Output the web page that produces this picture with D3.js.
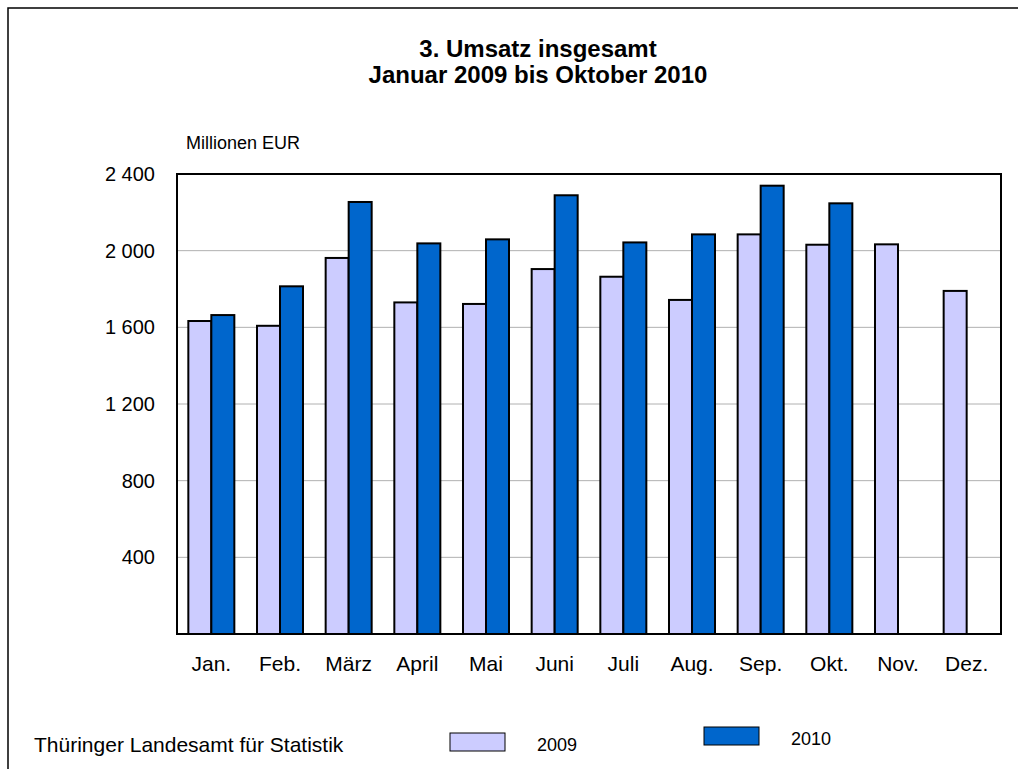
<!DOCTYPE html>
<html>
<head>
<meta charset="utf-8">
<script src="https://cdn.jsdelivr.net/npm/d3@7"></script>
<style>
  body { margin: 0; background: #fff; }
  text { font-family: "Liberation Sans", Arial, sans-serif; fill: #000; }
</style>
</head>
<body>
<svg id="chart" width="1018" height="769"></svg>
<script>
const months = ["Jan.", "Feb.", "März", "April", "Mai", "Juni", "Juli", "Aug.", "Sep.", "Okt.", "Nov.", "Dez."];
const years = ["2009", "2010"];
const values2009 = [1633, 1608, 1962, 1730, 1722, 1904, 1864, 1743, 2085, 2031, 2033, 1790];
const values2010 = [1664, 1814, 2254, 2038, 2059, 2289, 2043, 2085, 2339, 2247, null, null];
const yTicks = [400, 800, 1200, 1600, 2000, 2400];

const colors = { "2009": "#ccccff", "2010": "#0066cc" };

const margin = { top: 174, right: 17, bottom: 135, left: 177 },
  width = 1018 - margin.left - margin.right,
  height = 769 - margin.top - margin.bottom;

const svg = d3.select("svg#chart");

// outer frame
svg.append("rect")
  .attr("x", 8).attr("y", 8)
  .attr("width", 1040).attr("height", 800)
  .attr("fill", "none").attr("stroke", "#000").attr("stroke-width", 1.5);

// title
const title = svg.append("text")
  .attr("text-anchor", "middle")
  .attr("font-size", 24).attr("font-weight", "bold");
title.append("tspan").attr("x", 538).attr("y", 57).text("3. Umsatz insgesamt");
title.append("tspan").attr("x", 538).attr("y", 83).text("Januar 2009 bis Oktober 2010");

svg.append("text")
  .attr("x", 186).attr("y", 149)
  .attr("font-size", 18)
  .text("Millionen EUR");

const g = svg.append("g")
  .attr("transform", "translate(" + margin.left + "," + margin.top + ")");

const x = d3.scaleBand()
  .domain(months)
  .range([0, width])
  .paddingInner(0.33)
  .paddingOuter(0.165);

const xInner = d3.scaleBand()
  .domain(years)
  .range([0, x.bandwidth()]);

const y = d3.scaleLinear()
  .domain([0, 2400])
  .range([height, 0]);

const fmt = d3.formatLocale({ decimal: ",", thousands: " ", grouping: [3], currency: ["", " €"] }).format(",d");

// grid lines
g.append("g")
  .selectAll("line")
  .data(yTicks.filter(t => t < 2400))
  .enter().append("line")
  .attr("x1", 0).attr("x2", width)
  .attr("y1", d => y(d)).attr("y2", d => y(d))
  .attr("stroke", "#b0b0b0").attr("stroke-width", 1);

// y axis labels
const yAxis = d3.axisLeft(y)
  .tickValues(yTicks)
  .tickSize(0)
  .tickPadding(22)
  .tickFormat(fmt);

g.append("g")
  .call(yAxis)
  .call(ax => ax.select(".domain").remove())
  .selectAll("text")
  .attr("font-size", 20)
  .style("font-family", "Liberation Sans, Arial, sans-serif");

// bars
const rows = months.map((m, i) => ({ month: m, "2009": values2009[i], "2010": values2010[i] }));

const groups = g.selectAll(".month")
  .data(rows)
  .enter().append("g")
  .attr("class", "month")
  .attr("transform", d => "translate(" + x(d.month) + ",0)");

groups.selectAll("rect")
  .data(d => years.filter(k => d[k] != null).map(k => ({ key: k, value: d[k] })))
  .enter().append("rect")
  .attr("x", d => xInner(d.key))
  .attr("y", d => y(d.value))
  .attr("width", xInner.bandwidth())
  .attr("height", d => height - y(d.value))
  .attr("fill", d => colors[d.key])
  .attr("stroke", "#000")
  .attr("stroke-width", 2);

// plot frame
g.append("rect")
  .attr("x", 0).attr("y", 0)
  .attr("width", width).attr("height", height)
  .attr("fill", "none").attr("stroke", "#000").attr("stroke-width", 2);

// x axis labels
const xAxis = d3.axisBottom(x).tickSize(0).tickPadding(22);
g.append("g")
  .attr("transform", "translate(0," + height + ")")
  .call(xAxis)
  .call(ax => ax.select(".domain").remove())
  .selectAll("text")
  .attr("font-size", 21)
  .style("font-family", "Liberation Sans, Arial, sans-serif");

// footer
svg.append("text")
  .attr("x", 34).attr("y", 752)
  .attr("font-size", 21)
  .text("Thüringer Landesamt für Statistik");

const legendPos = [{ key: "2009", x: 450, y: 733 }, { key: "2010", x: 704, y: 727 }];
const legend = svg.selectAll(".legend")
  .data(legendPos)
  .enter().append("g")
  .attr("class", "legend");

legend.append("rect")
  .attr("x", d => d.x).attr("y", d => d.y)
  .attr("width", 55).attr("height", 18)
  .attr("fill", d => colors[d.key])
  .attr("stroke", "#000").attr("stroke-width", 1);

legend.append("text")
  .attr("x", d => d.x + 87).attr("y", d => d.y + 18)
  .attr("font-size", 18)
  .text(d => d.key);
</script>
</body>
</html>
